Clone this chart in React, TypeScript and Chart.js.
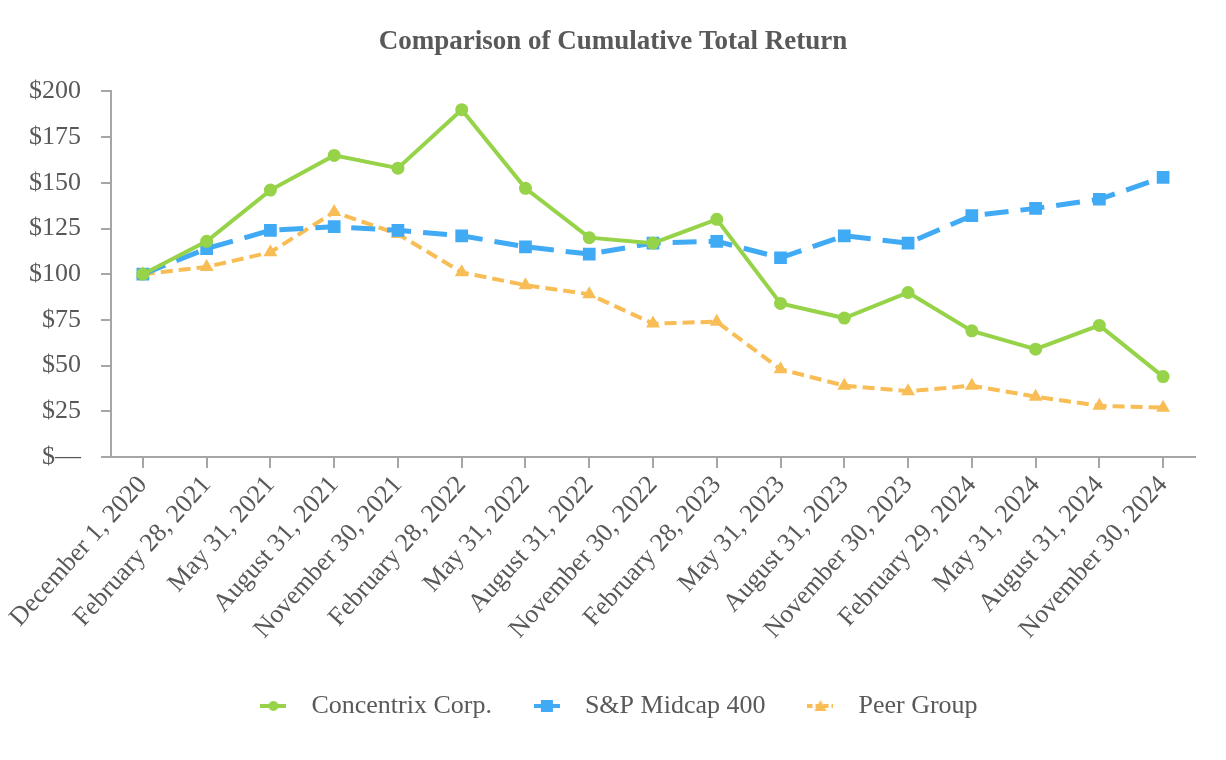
import React, { useEffect, useRef } from "react";
import { Chart, registerables } from "chart.js";

Chart.register(...registerables);

const categories = [
  "December 1, 2020",
  "February 28, 2021",
  "May 31, 2021",
  "August 31, 2021",
  "November 30, 2021",
  "February 28, 2022",
  "May 31, 2022",
  "August 31, 2022",
  "November 30, 2022",
  "February 28, 2023",
  "May 31, 2023",
  "August 31, 2023",
  "November 30, 2023",
  "February 29, 2024",
  "May 31, 2024",
  "August 31, 2024",
  "November 30, 2024",
];

const concentrix = [100, 118, 146, 165, 158, 190, 147, 120, 117, 130, 84, 76, 90, 69, 59, 72, 44];
const spMidcap = [100, 114, 124, 126, 124, 121, 115, 111, 117, 118, 109, 121, 117, 132, 136, 141, 153];
const peerGroup = [100, 104, 112, 134, 122, 101, 94, 89, 73, 74, 48, 39, 36, 39, 33, 28, 27];

const seriesNames = ["Concentrix Corp.", "S&P Midcap 400", "Peer Group"];

const GREEN = "#96D348";
const BLUE = "#41AAF5";
const ORANGE = "#F8BD55";
const TEXT = "#595959";
const AXIS = "#A6A6A6";
const FONT = "'Liberation Serif', 'Times New Roman', serif";

function makeLegendIcon(color: string, style: string, dash: number[]) {
  const c = document.createElement("canvas");
  c.width = 26;
  c.height = 16;
  const ctx = c.getContext("2d")!;
  ctx.strokeStyle = color;
  ctx.fillStyle = color;
  ctx.lineWidth = 4;
  ctx.setLineDash(dash);
  ctx.beginPath();
  ctx.moveTo(0, 8);
  ctx.lineTo(26, 8);
  ctx.stroke();
  ctx.setLineDash([]);
  ctx.beginPath();
  if (style === "circle") {
    ctx.arc(13, 8, 5, 0, Math.PI * 2);
  } else if (style === "rect") {
    ctx.rect(7, 2, 12, 12);
  } else {
    ctx.moveTo(13, 2);
    ctx.lineTo(19, 13);
    ctx.lineTo(7, 13);
    ctx.closePath();
  }
  ctx.fill();
  return c;
}

export default function App() {
  const ref = useRef<HTMLCanvasElement>(null);

  useEffect(() => {
    document.body.style.margin = "0";
    const icons = [
      makeLegendIcon(GREEN, "circle", []),
      makeLegendIcon(BLUE, "rect", []),
      makeLegendIcon(ORANGE, "triangle", [5, 3]),
    ];
    const chart = new Chart(ref.current!, {
      type: "line",
      data: {
        labels: categories,
        datasets: [
          {
            label: seriesNames[0],
            data: concentrix,
            borderColor: GREEN,
            backgroundColor: GREEN,
            borderWidth: 4,
            pointStyle: "circle",
            pointRadius: 6.5,
            pointBorderWidth: 0,
            tension: 0,
          },
          {
            label: seriesNames[1],
            data: spMidcap,
            borderColor: BLUE,
            backgroundColor: BLUE,
            borderWidth: 5,
            borderDash: [24, 12],
            pointStyle: "rect",
            pointRadius: 9,
            pointBorderWidth: 0,
            tension: 0,
          },
          {
            label: seriesNames[2],
            data: peerGroup,
            borderColor: ORANGE,
            backgroundColor: ORANGE,
            borderWidth: 4,
            borderDash: [12, 6],
            pointStyle: "triangle",
            pointRadius: 8,
            pointBorderWidth: 0,
            tension: 0,
          },
        ],
      },
      options: {
        animation: false,
        responsive: false,
        devicePixelRatio: 1,
        layout: { padding: { left: 0, right: 0, top: 0, bottom: 31 } },
        plugins: {
          title: {
            display: true,
            text: "Comparison of Cumulative Total Return",
            color: TEXT,
            font: { family: FONT, size: 27, weight: "bold" },
            padding: { top: 26, bottom: 33 },
          },
          legend: {
            position: "bottom",
            labels: {
              color: TEXT,
              font: { family: FONT, size: 26 },
              usePointStyle: true,
              pointStyleWidth: 50,
              padding: 30,
              generateLabels: (ch: any) =>
                ch.data.datasets.map((ds: any, i: number) => ({
                  text: ds.label,
                  pointStyle: icons[i],
                  fillStyle: "transparent",
                  strokeStyle: "transparent",
                  lineWidth: 0,
                  fontColor: TEXT,
                  hidden: false,
                  datasetIndex: i,
                })),
            },
          },
          tooltip: { enabled: false },
        },
        scales: {
          x: {
            offset: true,
            grid: {
              offset: false,
              drawOnChartArea: false,
              drawTicks: true,
              tickLength: 11,
              color: AXIS,
              lineWidth: 2,
            },
            border: { display: true, color: AXIS, width: 2 },
            ticks: {
              color: TEXT,
              font: { family: FONT, size: 26 },
              maxRotation: 48,
              minRotation: 48,
              autoSkip: false,
              padding: 2,
            },
            afterFit: (s: any) => {
              s.height = 206;
            },
          },
          y: {
            min: 0,
            max: 200,
            grid: {
              drawOnChartArea: false,
              drawTicks: true,
              tickLength: 10,
              color: AXIS,
              lineWidth: 2,
            },
            border: { display: true, color: AXIS, width: 2 },
            ticks: {
              stepSize: 25,
              color: TEXT,
              font: { family: FONT, size: 26 },
              padding: 20,
              callback: (v: any) => (Number(v) === 0 ? "$\u2014" : "$" + v),
            },
            afterFit: (s: any) => {
              s.width = 111;
            },
          },
          yRight: {
            position: "right",
            min: 0,
            max: 200,
            grid: { display: false, drawOnChartArea: false },
            border: { display: false },
            ticks: { display: false },
            afterFit: (s: any) => {
              s.width = 31;
            },
          },
        },
      },
    });
    return () => chart.destroy();
  }, []);

  return <canvas ref={ref} width={1226} height={760} style={{ display: "block" }} />;
}
